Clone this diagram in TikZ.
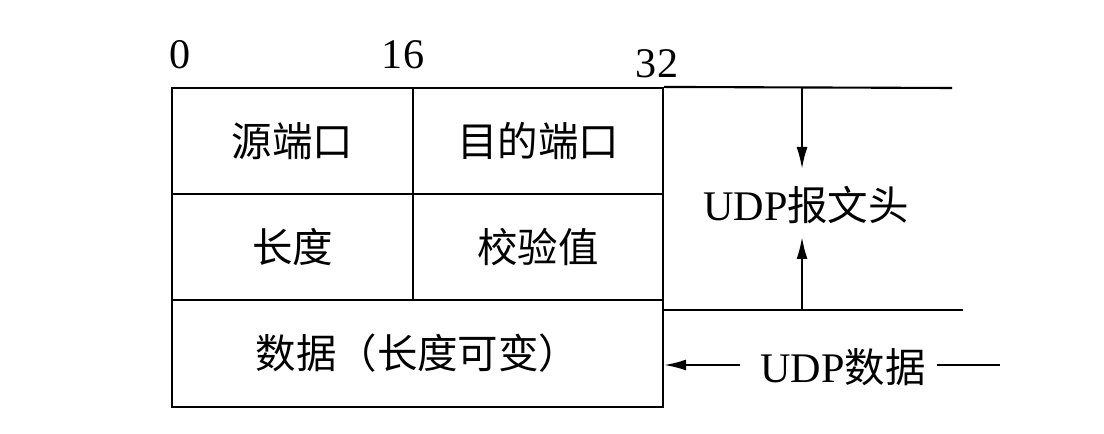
\documentclass[tikz,border=0pt]{standalone}
\usepackage{fontspec}
\setmainfont{Liberation Serif}
\newfontfamily\cjk[Scale=0.96]{Noto Sans CJK SC}
\usepackage{tikz}
\usetikzlibrary{arrows.meta}

\begin{document}
\begin{tikzpicture}[line width=.6pt,inner sep=0pt,font=\fontsize{12}{14}\selectfont,
  cell/.style={rectangle,draw=black,line width=.6pt},
  tip/.style={-{Latex[length=2.2mm,width=1.1mm]}}]
\useasboundingbox (0,0) rectangle (11.04,-4.34);
%Cell Coordinates
\node at (2.925,-1.41) [cell,minimum width=2.41cm,minimum height=1.06cm] (SrcPort) {\cjk 源端口};
\node at (5.38,-1.41) [cell,minimum width=2.50cm,minimum height=1.06cm] (DstPort) {\cjk 目的端口};
\node at (2.925,-2.47) [cell,minimum width=2.41cm,minimum height=1.06cm] (Length) {\cjk 长度};
\node at (5.38,-2.47) [cell,minimum width=2.50cm,minimum height=1.06cm] (Checksum) {\cjk 校验值};
\node at (4.175,-3.535) [cell,minimum width=4.91cm,minimum height=1.07cm] (Data) {\cjk 数据（长度可变）};
%Bit Labels
\node [black] at (1.80,-0.55) (BitA) {0};
\node [black] at (4.03,-0.55) (BitB) {16};
\node [black] at (6.57,-0.64) (BitC) {32};
%Side Labels
\node [black] at (8.06,-2.05) (Header) {UDP\cjk 报文头};
\node [black] at (8.43,-3.67) (Payload) {UDP\cjk 数据};
%Line Ends
\coordinate (TopEnd) at (9.52,-0.88);
\coordinate (BotStart) at (6.63,-3.10);
\coordinate (BotEnd) at (9.63,-3.10);
\coordinate (DownFrom) at (8.02,-0.88);
\coordinate (DownTo) at (8.02,-1.69);
\coordinate (UpFrom) at (8.02,-3.10);
\coordinate (UpTo) at (8.02,-2.37);
\coordinate (LeftFrom) at (7.40,-3.65);
\coordinate (RightFrom) at (9.37,-3.65);
\coordinate (RightTo) at (10.00,-3.65);
%Connections
\draw (DstPort.north east) -- (TopEnd);
\draw (BotStart) -- (BotEnd);
\draw [tip] (DownFrom) -- (DownTo);
\draw [tip] (UpFrom) -- (UpTo);
\draw [tip] (LeftFrom) -- (Data.east |- LeftFrom);
\draw (RightFrom) -- (RightTo);
\end{tikzpicture}
\end{document}
